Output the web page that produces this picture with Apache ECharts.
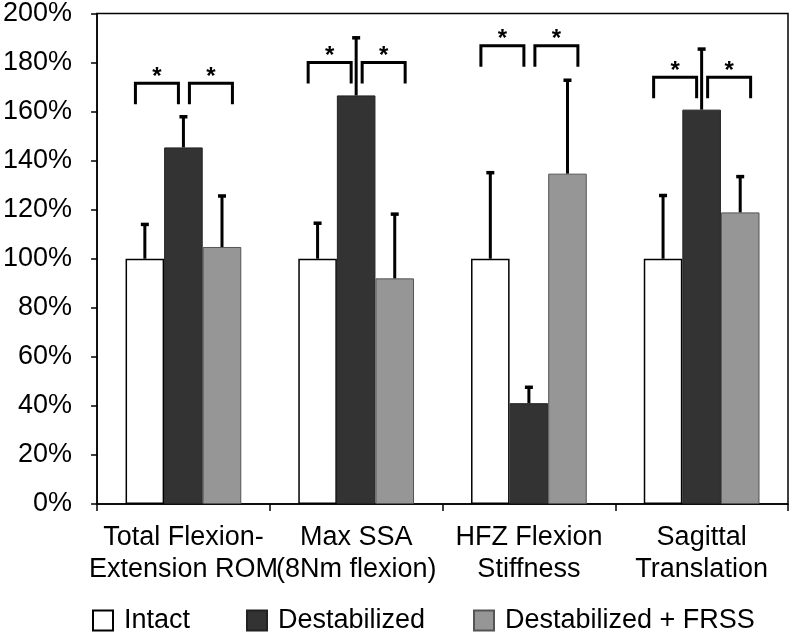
<!DOCTYPE html>
<html>
<head>
<meta charset="utf-8">
<script src="https://cdn.jsdelivr.net/npm/echarts@6/dist/echarts.min.js"></script>
<style>
html, body { margin: 0; padding: 0; background: #fff; }
#chart { width: 796px; height: 632px; }
</style>
</head>
<body>
<div id="chart"></div>
<script>
// categories and series values (% of intact)
var categories = ['Total Flexion-\nExtension ROM', 'Max SSA\n(8Nm flexion)', 'HFZ Flexion\nStiffness', 'Sagittal\nTranslation'];
var intact = [100, 100, 100, 100];
var destabilized = [145.4, 166.6, 41.1, 160.8];
var frss = [104.8, 92, 134.7, 118.9];
// top of each error bar
var intactErr = [114.4, 114.9, 135.5, 126.2];
var destabilizedErr = [158.3, 190.5, 48, 185.9];
var frssErr = [126, 118.6, 173.2, 133.9];
// height of the significance brackets per group
var bracketTop = [171.6, 180, 186.9, 174];
var yTicks = [0, 20, 40, 60, 80, 100, 120, 140, 160, 180, 200];
var seriesNames = ['Intact', 'Destabilized', 'Destabilized + FRSS'];

var font = 'Liberation Sans, Arial, sans-serif';
var catGap = 0.33;

// error bar data: [category, value, top, barIndex]
function errData(vals, tops, idx) {
    var arr = [];
    for (var i = 0; i < vals.length; i++) {
        arr.push([i, vals[i], tops[i], idx]);
    }
    return arr;
}
var errorData = errData(intact, intactErr, 0)
    .concat(errData(destabilized, destabilizedErr, 1))
    .concat(errData(frss, frssErr, 2));

function renderError(params, api) {
    var cat = api.value(0);
    var idx = api.value(3);
    var w = api.size([1, 0])[0];
    var bw = w * (1 - catGap) / 3;
    var p0 = api.coord([cat, api.value(1)]);
    var p1 = api.coord([cat, api.value(2)]);
    var x = p0[0] + (idx - 1) * bw;
    return {
        type: 'group',
        children: [
            { type: 'line', shape: { x1: x, y1: p0[1], x2: x, y2: p1[1] }, style: { stroke: '#000', lineWidth: 3 } },
            { type: 'line', shape: { x1: x - 4, y1: p1[1] + 1, x2: x + 4, y2: p1[1] + 1 }, style: { stroke: '#000', lineWidth: 3.5 } }
        ]
    };
}

// brackets between intact/destabilized and destabilized/FRSS
var bracketData = [];
for (var b = 0; b < bracketTop.length; b++) {
    bracketData.push([b, bracketTop[b]]);
}
function renderBracket(params, api) {
    var p = api.coord([api.value(0), api.value(1)]);
    var cx = p[0], y = p[1];
    var leg = 21;
    function bracket(x1, x2) {
        return {
            type: 'polyline',
            shape: { points: [[x1, y + leg], [x1, y], [x2, y], [x2, y + leg]] },
            style: { stroke: '#000', lineWidth: 3, fill: null }
        };
    }
    function star(x) {
        return {
            type: 'text',
            style: { text: '*', x: x, y: y + 6, align: 'center', verticalAlign: 'bottom', fill: '#000', font: 'bold 24px ' + font }
        };
    }
    return {
        type: 'group',
        children: [
            bracket(cx - 48, cx - 5), bracket(cx + 6, cx + 49),
            star(cx - 26.5), star(cx + 27.5)
        ]
    };
}

// one legend per entry so each can sit where it does in the picture
var legendLeft = [92, 246, 473];
var legends = [];
for (var k = 0; k < seriesNames.length; k++) {
    legends.push({
        data: [seriesNames[k]],
        left: legendLeft[k], top: 607, padding: 0,
        itemWidth: 20, itemHeight: 20,
        icon: 'rect',
        textStyle: { fontSize: 27, color: '#000', padding: [0, 0, 0, 6] }
    });
}

var chart = echarts.init(document.getElementById('chart'));
chart.setOption({
    animation: false,
    textStyle: { fontFamily: font },
    grid: { left: 95, right: 8, top: 11, bottom: 128, show: true, borderColor: '#000', borderWidth: 1.5, backgroundColor: 'transparent' },
    legend: legends,
    xAxis: {
        type: 'category',
        data: categories,
        axisLine: { lineStyle: { color: '#000', width: 1.5 } },
        axisTick: { show: true, length: 7, lineStyle: { color: '#000', width: 1.5 } },
        axisLabel: { color: '#000', fontSize: 27, lineHeight: 32, margin: 18, interval: 0 }
    },
    yAxis: {
        type: 'value',
        min: 0, max: 200, interval: 20,
        axisLine: { show: true, lineStyle: { color: '#000', width: 1.5 } },
        axisTick: { show: true, length: 6, lineStyle: { color: '#000', width: 1.5 } },
        splitLine: { show: false },
        axisLabel: {
            color: '#000', fontSize: 27, margin: 25,
            formatter: function (v) { return yTicks.indexOf(v) >= 0 ? v + '%' : ''; }
        }
    },
    series: [
        { name: seriesNames[0], type: 'bar', data: intact, barGap: 0, barCategoryGap: '33%',
          itemStyle: { color: '#fff', borderColor: '#000', borderWidth: 1.5 } },
        { name: seriesNames[1], type: 'bar', data: destabilized, barGap: 0, barCategoryGap: '33%',
          itemStyle: { color: '#333333', borderColor: '#222', borderWidth: 1 } },
        { name: seriesNames[2], type: 'bar', data: frss, barGap: 0, barCategoryGap: '33%',
          itemStyle: { color: '#969696', borderColor: '#555', borderWidth: 1 } },
        { type: 'custom', renderItem: renderError, data: errorData, z: 5, silent: true },
        { type: 'custom', renderItem: renderBracket, data: bracketData, z: 5, silent: true }
    ]
});
</script>
</body>
</html>
